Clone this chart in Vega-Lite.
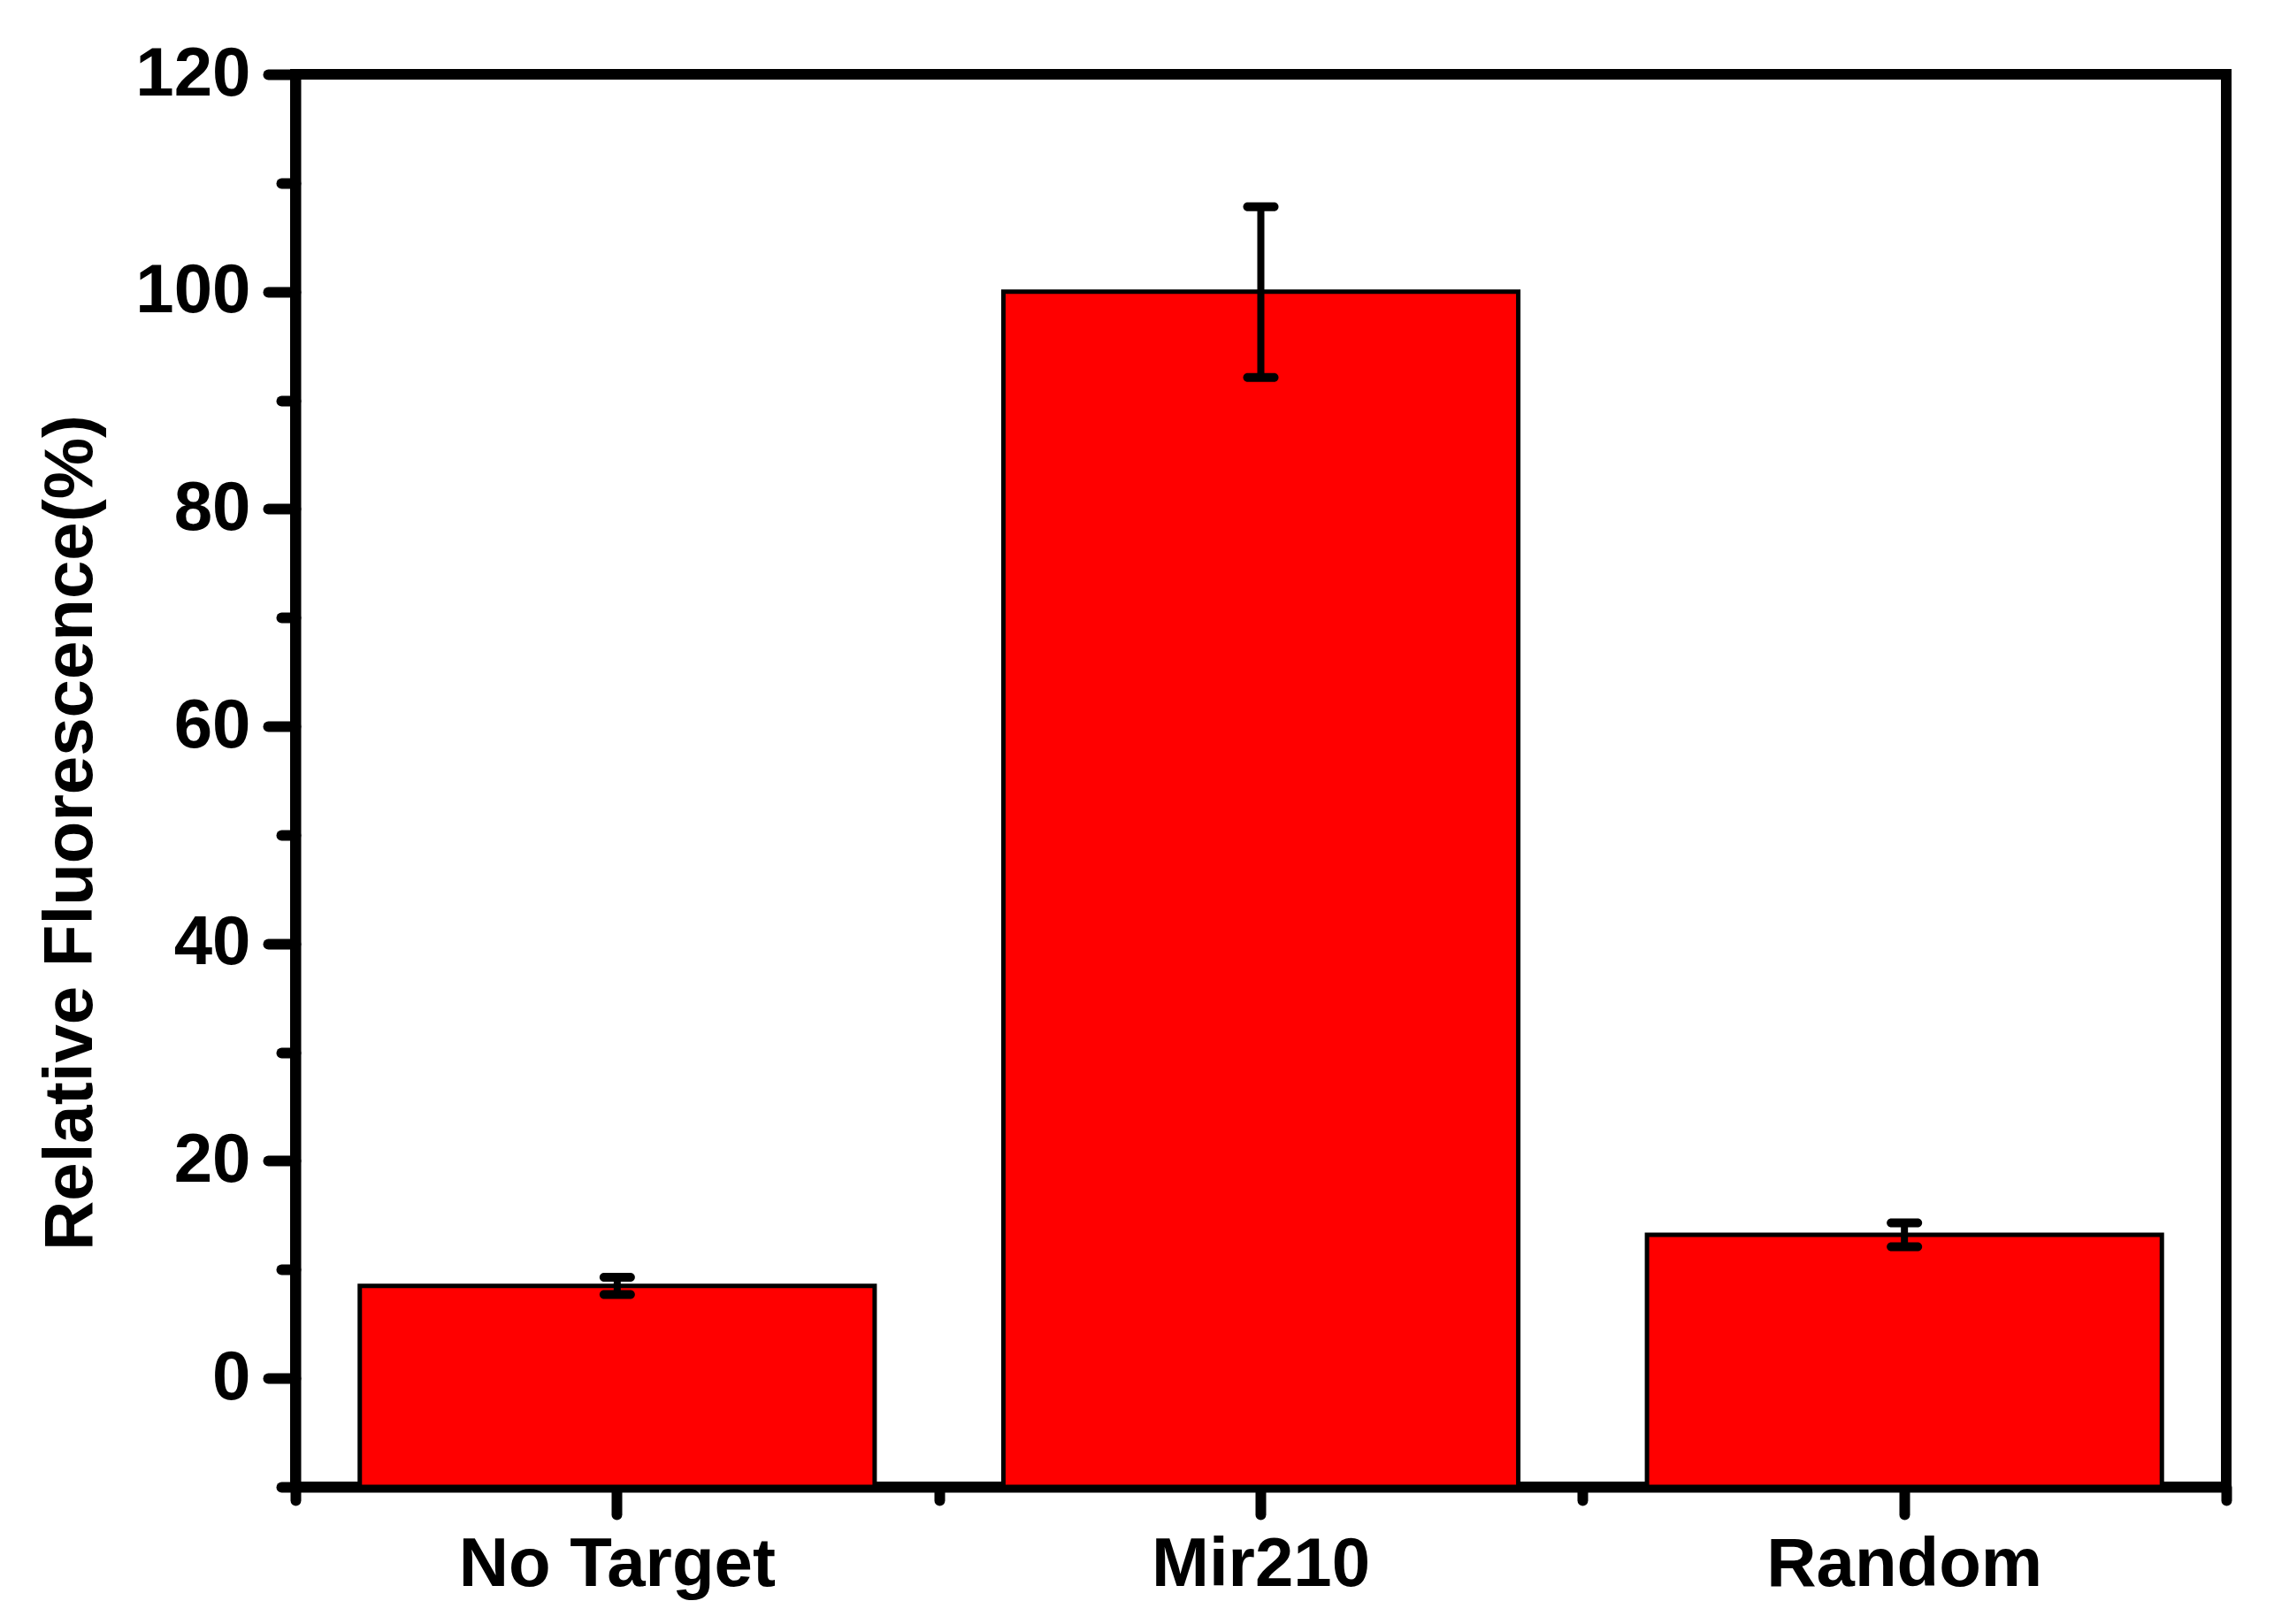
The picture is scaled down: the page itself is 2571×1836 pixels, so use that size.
{
  "$schema": "https://vega.github.io/schema/vega-lite/v6.json",
  "width": 2183,
  "height": 1597,
  "autosize": {"type": "none"},
  "padding": {"left": 334, "top": 84, "right": 54, "bottom": 155},
  "background": "white",
  "data": {
    "values": [
      {"group": "No Target", "value": 8.5, "lower": 7.7, "upper": 9.3},
      {"group": "Mir210", "value": 100, "lower": 92.1, "upper": 107.8},
      {"group": "Random", "value": 13.2, "lower": 12.1, "upper": 14.3}
    ]
  },
  "layer": [
    {
      "mark": {"type": "bar", "fill": "#ff0000", "stroke": "black", "strokeWidth": 5, "width": {"band": 0.8}},
      "encoding": {
        "x": {
          "field": "group", "type": "nominal", "sort": null,
          "scale": {"paddingInner": 0, "paddingOuter": 0},
          "axis": {"orient": "bottom", "title": null, "tickSize": 31, "labelAngle": 0, "labelPadding": 18, "labelLimit": 1000}
        },
        "y": {
          "field": "value", "type": "quantitative",
          "scale": {"domain": [-10, 120], "nice": false, "zero": false},
          "title": "Relative Fluorescence(%)",
          "axis": {
            "values": [-10, 0, 10, 20, 30, 40, 50, 60, 70, 80, 90, 100, 110, 120],
            "labelExpr": "datum.value % 20 === 0 ? datum.label : ''",
            "tickSize": {"condition": {"test": "datum.value % 20 === 0", "value": 31}, "value": 16},
            "labelPadding": 20,
            "titleX": -231,
            "titleY": 857,
            "titleAngle": -90,
            "titleAlign": "center",
            "titleBaseline": "alphabetic"
          }
        },
        "y2": {"datum": -10}
      }
    },
    {
      "mark": {
        "type": "errorbar", "color": "black", "thickness": 8, "opacity": 1,
        "rule": {"opacity": 1, "color": "black"},
        "ticks": {"size": 40, "thickness": 10, "color": "black", "opacity": 1, "cornerRadius": 5}
      },
      "encoding": {
        "x": {
          "field": "group", "type": "nominal", "sort": null,
          "axis": {"orient": "bottom", "title": null, "tickBand": "extent", "tickSize": 15, "labels": false, "domain": false}
        },
        "y": {"field": "lower", "type": "quantitative", "scale": {"domain": [-10, 120], "nice": false, "zero": false}, "title": "Relative Fluorescence(%)"},
        "y2": {"field": "upper"}
      }
    }
  ],
  "resolve": {"axis": {"x": "independent"}},
  "config": {
    "view": {"stroke": "black", "strokeWidth": 12},
    "axis": {
      "grid": false,
      "domainColor": "black",
      "domainWidth": 12,
      "tickColor": "black",
      "tickWidth": 12,
      "tickCap": "round",
      "labelFont": "Liberation Sans",
      "labelFontWeight": "bold",
      "labelFontSize": 78,
      "labelColor": "black",
      "titleFont": "Liberation Sans",
      "titleFontWeight": "bold",
      "titleFontSize": 78,
      "titleColor": "black"
    }
  }
}
